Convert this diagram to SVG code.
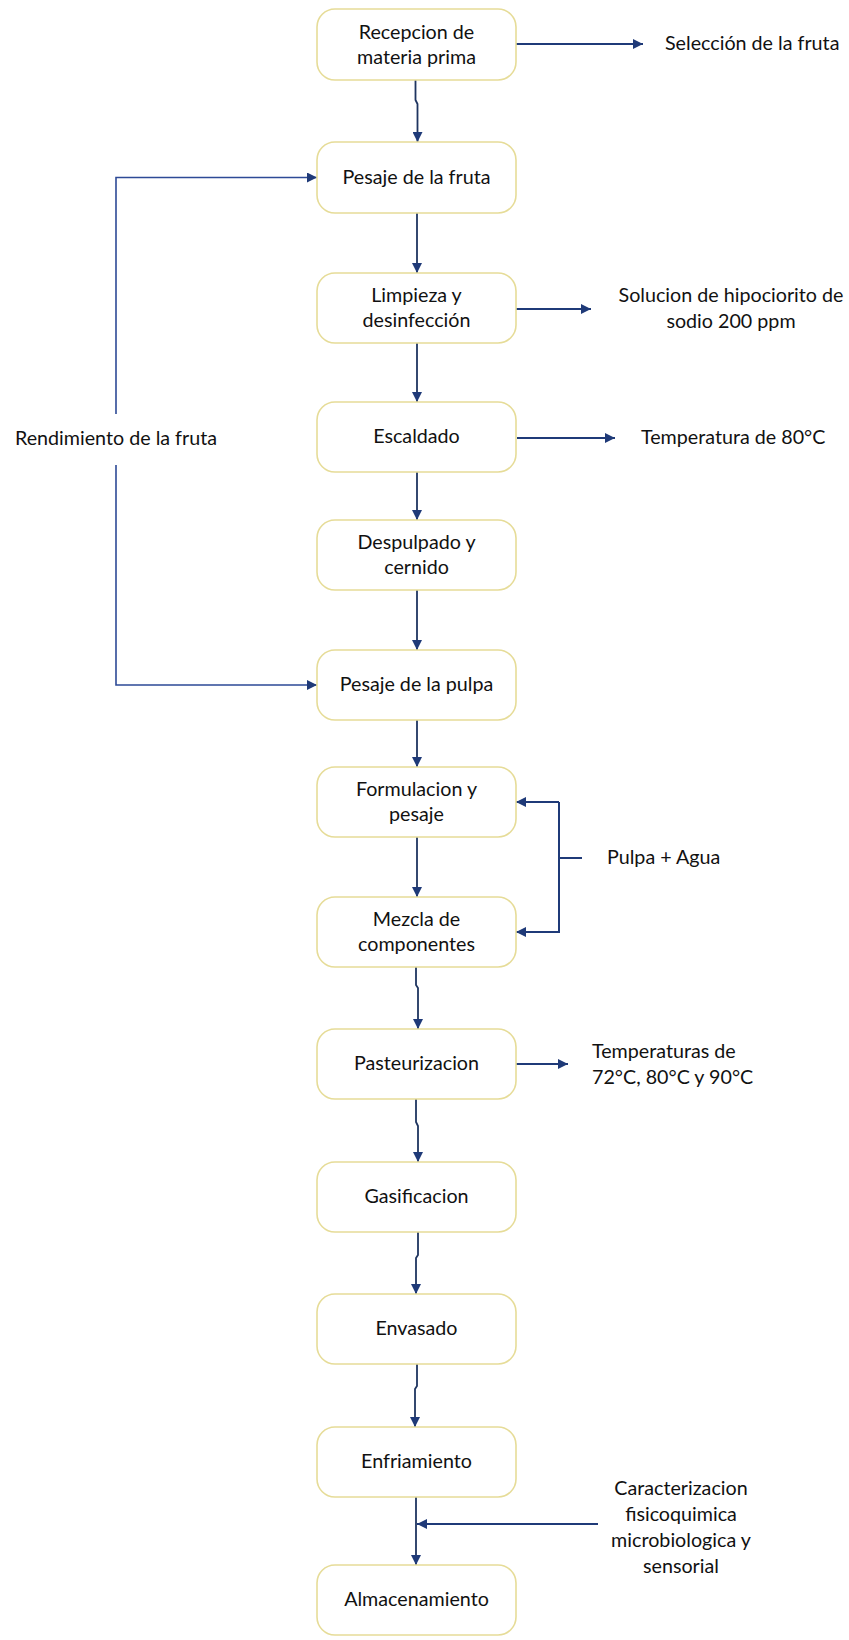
<svg xmlns="http://www.w3.org/2000/svg" width="849" height="1640" viewBox="0 0 849 1640">
<style>
.box{fill:#ffffff;stroke:#e6dc98;stroke-width:1.6}
.t{font-family:Lato,"Noto Sans",sans-serif;font-size:19.7px;fill:#111;text-anchor:middle}
.tl{font-family:Lato,"Noto Sans",sans-serif;font-size:19.7px;fill:#111;text-anchor:start}
.c{fill:none;stroke:#1f3560;stroke-width:1.8}
.h{fill:none;stroke:#1f3a78;stroke-width:2}
.lp{fill:none;stroke:#2d4a96;stroke-width:1.6}
</style>
<defs>
<marker id="ah" viewBox="0 0 10 10" refX="10" refY="5" markerWidth="11" markerHeight="10" markerUnits="userSpaceOnUse" orient="auto">
<path d="M0,0 L10,5 L0,10 Z" fill="#1f3a78"/>
</marker>
</defs>
<g id="connectors">
<path class="c" d="M415.5,80 V100 L417.5,104 V142" marker-end="url(#ah)"/>
<path class="c" d="M417,213 V273" marker-end="url(#ah)"/>
<path class="c" d="M417,343 V402" marker-end="url(#ah)"/>
<path class="c" d="M417,472 V520" marker-end="url(#ah)"/>
<path class="c" d="M417,590 V650" marker-end="url(#ah)"/>
<path class="c" d="M417,720 V767" marker-end="url(#ah)"/>
<path class="c" d="M417,837 V897" marker-end="url(#ah)"/>
<path class="c" d="M416,967 V985 L418,988 V1029" marker-end="url(#ah)"/>
<path class="c" d="M416,1099 V1122 L418,1126 V1162" marker-end="url(#ah)"/>
<path class="c" d="M418,1232 V1255 L416,1258 V1294" marker-end="url(#ah)"/>
<path class="c" d="M417,1364 V1386 L415,1389 V1427" marker-end="url(#ah)"/>
<path class="c" d="M416,1497 V1565" stroke-width="2.2" marker-end="url(#ah)"/>
<path class="h" d="M598,1524 H417" marker-end="url(#ah)"/>
<path class="h" d="M516,44 H643" marker-end="url(#ah)"/>
<path class="h" d="M516,309 H591" marker-end="url(#ah)"/>
<path class="h" d="M517,438 H615" marker-end="url(#ah)"/>
<path class="h" d="M516,1064 H568" marker-end="url(#ah)"/>
<path class="h" d="M559,802 H516" marker-end="url(#ah)"/>
<path class="h" d="M559,802 V932 H516" marker-end="url(#ah)"/>
<path class="h" d="M559,858 H582"/>
<path class="lp" d="M116,414 V177.5 H317" marker-end="url(#ah)"/>
<path class="lp" d="M116,465 V685 H317" marker-end="url(#ah)"/>
</g>
<g id="n1"><rect class="box" x="317" y="9" width="199" height="71" rx="18"/><text class="t" x="416.5" y="39">Recepcion de</text><text class="t" x="416.5" y="64">materia prima</text></g>
<g id="n2"><rect class="box" x="317" y="142" width="199" height="71" rx="18"/><text class="t" x="416.5" y="184">Pesaje de la fruta</text></g>
<g id="n3"><rect class="box" x="317" y="273" width="199" height="70" rx="18"/><text class="t" x="416.5" y="302">Limpieza y</text><text class="t" x="416.5" y="327">desinfección</text></g>
<g id="n4"><rect class="box" x="317" y="402" width="199" height="70" rx="18"/><text class="t" x="416.5" y="443">Escaldado</text></g>
<g id="n5"><rect class="box" x="317" y="520" width="199" height="70" rx="18"/><text class="t" x="416.5" y="549">Despulpado y</text><text class="t" x="416.5" y="574">cernido</text></g>
<g id="n6"><rect class="box" x="317" y="650" width="199" height="70" rx="18"/><text class="t" x="416.5" y="691">Pesaje de la pulpa</text></g>
<g id="n7"><rect class="box" x="317" y="767" width="199" height="70" rx="18"/><text class="t" x="416.5" y="796">Formulacion y</text><text class="t" x="416.5" y="821">pesaje</text></g>
<g id="n8"><rect class="box" x="317" y="897" width="199" height="70" rx="18"/><text class="t" x="416.5" y="926">Mezcla de</text><text class="t" x="416.5" y="951">componentes</text></g>
<g id="n9"><rect class="box" x="317" y="1029" width="199" height="70" rx="18"/><text class="t" x="416.5" y="1070">Pasteurizacion</text></g>
<g id="n10"><rect class="box" x="317" y="1162" width="199" height="70" rx="18"/><text class="t" x="416.5" y="1203">Gasificacion</text></g>
<g id="n11"><rect class="box" x="317" y="1294" width="199" height="70" rx="18"/><text class="t" x="416.5" y="1335">Envasado</text></g>
<g id="n12"><rect class="box" x="317" y="1427" width="199" height="70" rx="18"/><text class="t" x="416.5" y="1468">Enfriamiento</text></g>
<g id="n13"><rect class="box" x="317" y="1565" width="199" height="70" rx="18"/><text class="t" x="416.5" y="1606">Almacenamiento</text></g>
<g id="l1"><text class="tl" x="665" y="50">Selección de la fruta</text></g>
<g id="l2"><text class="t" x="731" y="302">Solucion de hipociorito de</text><text class="t" x="731" y="328">sodio 200 ppm</text></g>
<g id="l3"><text class="tl" x="641" y="444">Temperatura de 80°C</text></g>
<g id="l4"><text class="t" x="116" y="445">Rendimiento de la fruta</text></g>
<g id="l5"><text class="tl" x="607" y="864">Pulpa + Agua</text></g>
<g id="l6"><text class="tl" x="592" y="1058">Temperaturas de</text><text class="tl" x="592" y="1084">72°C, 80°C y 90°C</text></g>
<g id="l7"><text class="t" x="681" y="1495">Caracterizacion</text><text class="t" x="681" y="1521">fisicoquimica</text><text class="t" x="681" y="1547">microbiologica y</text><text class="t" x="681" y="1573">sensorial</text></g>
</svg>
